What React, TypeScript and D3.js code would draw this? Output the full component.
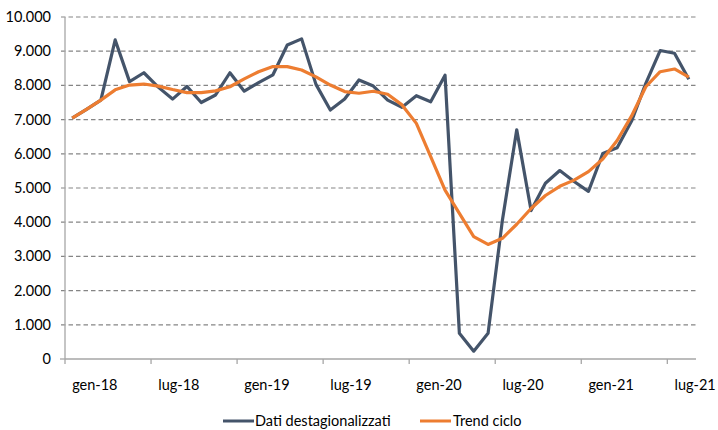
import React from "react";
import * as d3 from "d3";

const months = ["gen","feb","mar","apr","mag","giu","lug","ago","set","ott","nov","dic"];
const categories: string[] = [];
for (let y = 18; y <= 21; y++) {
  for (let m = 0; m < 12; m++) {
    if (y === 21 && m > 7) break;
    categories.push(`${months[m]}-${y}`);
  }
}

const datiDestagionalizzati = [
  7040, 7300, 7570, 9330, 8110, 8370, 7950, 7600, 7970, 7500, 7720, 8370,
  7830, 8080, 8310, 9180, 9360, 8030, 7280, 7600, 8160, 7980, 7570, 7360,
  7700, 7520, 8300, 750, 230, 750, 4060, 6700, 4340, 5140, 5510, 5190,
  4900, 6010, 6180, 6950, 8060, 9020, 8940, 8180,
];

const trendCiclo = [
  7040, 7300, 7570, 7870, 8010, 8040, 7980, 7880, 7790, 7790, 7840, 7960,
  8190, 8400, 8550, 8550, 8450, 8250, 8010, 7820, 7770, 7830, 7740, 7430,
  6890, 5920, 4940, 4260, 3580, 3350, 3530, 3940, 4400, 4780, 5050, 5230,
  5480, 5850, 6390, 7100, 7960, 8400, 8480, 8240,
];

const yTicks = [0, 1000, 2000, 3000, 4000, 5000, 6000, 7000, 8000, 9000, 10000];
const tickLabelMonths = ["gen-18", "lug-18", "gen-19", "lug-19", "gen-20", "lug-20", "gen-21", "lug-21"];

const W = 718, H = 430;
const left = 65, right = 696, top = 17, bottom = 359;
const FONT = "Lato, 'Open Sans', sans-serif";
const FS = 14.5;

export default function App() {
  const x = d3.scaleBand<string>().domain(categories).range([left, right]).paddingInner(0).paddingOuter(0);
  const y = d3.scaleLinear().domain([0, 10000]).range([bottom, top]);
  const cx = (i: number) => (x(categories[i]) as number) + x.bandwidth() / 2;
  const line = d3.line<number>().x((_, i) => cx(i)).y((d) => y(d));
  const fmt = (v: number) => d3.format(",")(v).replace(/,/g, ".");
  const tickCats = categories.filter((_, i) => i % 6 === 0);

  return (
    <svg width={W} height={H} style={{ position: "absolute", left: 0, top: 0, background: "#fff" }}>
      {yTicks.map((t) => (
        <g key={t}>
          {t > 0 ? (
            <line x1={61} x2={right} y1={y(t)} y2={y(t)} stroke="#858585" strokeWidth={1.2} strokeDasharray="4.5,3" />
          ) : (
            <line x1={60} x2={left} y1={y(t)} y2={y(t)} stroke="#a6a6a6" strokeWidth={1.3} />
          )}
          <text x={51} y={y(t)} dy="0.35em" textAnchor="end" fontFamily={FONT} fontSize={FS} fill="#000">
            {fmt(t)}
          </text>
        </g>
      ))}
      <line x1={left} x2={left} y1={top} y2={bottom} stroke="#a6a6a6" strokeWidth={1.3} />
      <line x1={left} x2={right} y1={bottom} y2={bottom} stroke="#a6a6a6" strokeWidth={1.3} />
      {tickCats.map((c) => (
        <line key={c} x1={x(c)} x2={x(c)} y1={bottom} y2={bottom + 5} stroke="#a6a6a6" strokeWidth={1.3} />
      ))}
      {tickCats.map((c, k) => (
        <text key={"l" + c} x={(x(c) as number) + x.bandwidth() / 2} y={385} dy="0.35em" fontFamily={FONT} fontSize={FS} fill="#000">
          {tickLabelMonths[k]}
        </text>
      ))}
      <path d={line(datiDestagionalizzati) || ""} fill="none" stroke="#44546A" strokeWidth={3.2} strokeLinejoin="round" />
      <path d={line(trendCiclo) || ""} fill="none" stroke="#ED7D31" strokeWidth={3.2} strokeLinejoin="round" />
      <line x1={223} x2={254} y1={421} y2={421} stroke="#44546A" strokeWidth={3} />
      <text x={255} y={421} dy="0.35em" fontFamily={FONT} fontSize={FS} fill="#000">Dati destagionalizzati</text>
      <line x1={420} x2={451} y1={421} y2={421} stroke="#ED7D31" strokeWidth={3} />
      <text x={453} y={421} dy="0.35em" fontFamily={FONT} fontSize={FS} fill="#000">Trend ciclo</text>
    </svg>
  );
}
